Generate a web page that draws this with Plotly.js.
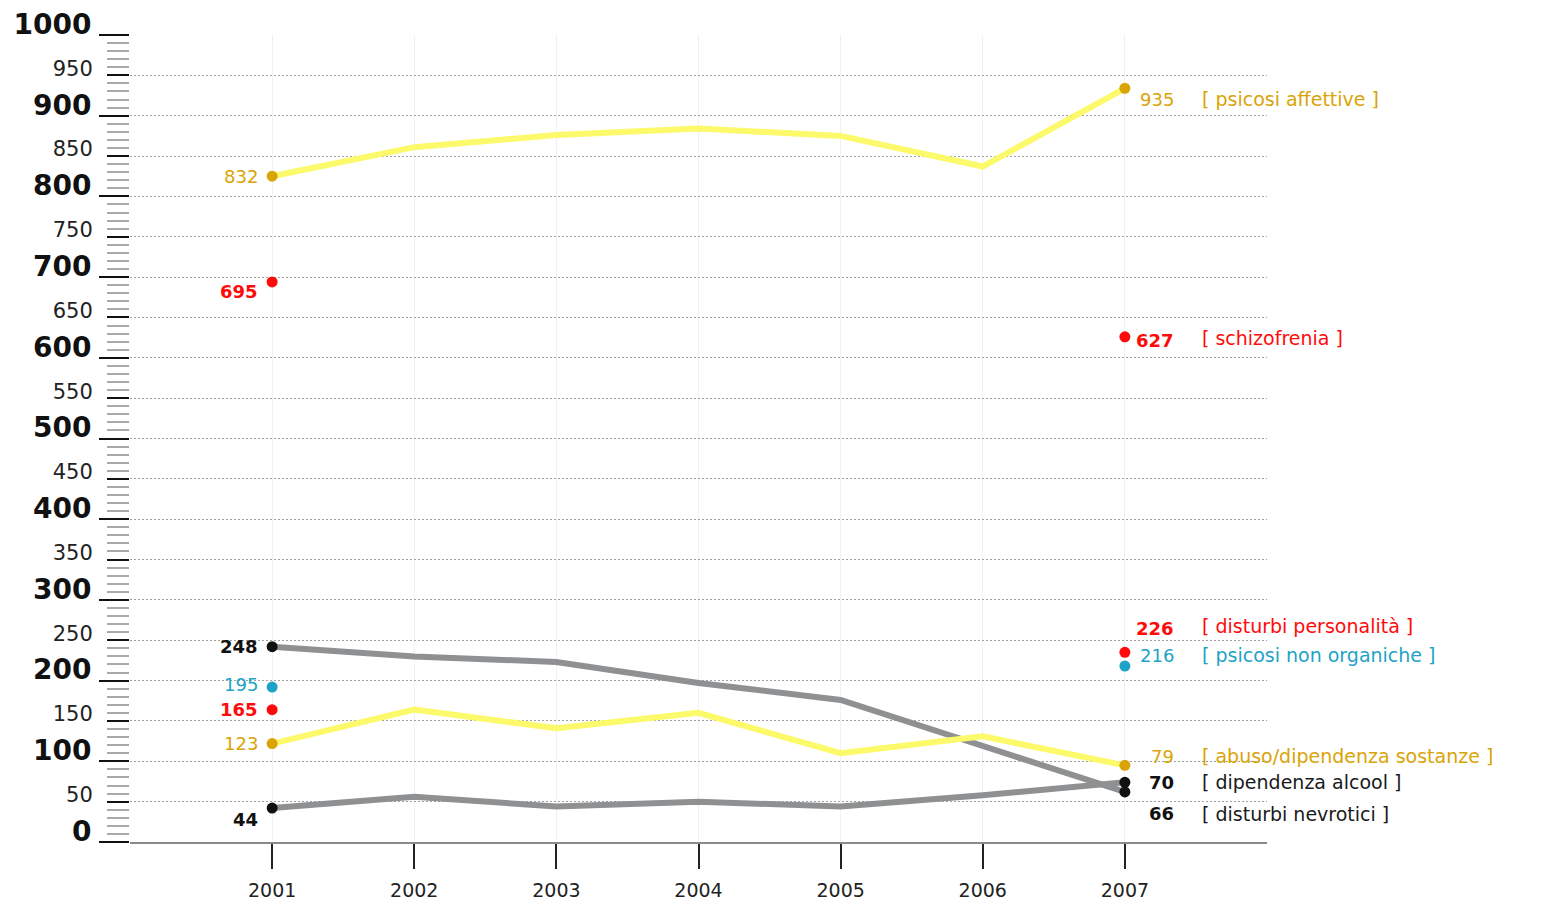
<!DOCTYPE html>
<html>
<head>
<meta charset="utf-8">
<script src="https://cdn.plot.ly/plotly-3.0.1.min.js"></script>
<style>
html,body{margin:0;padding:0;background:#ffffff;}
#chart{width:1553px;height:901px;}
</style>
</head>
<body>
<div id="chart"></div>
<script>
// ---- data ----
const years = [2001, 2002, 2003, 2004, 2005, 2006, 2007];
const endYears = [2001, 2007];

const psicosiAffettive   = [825, 861, 876, 884, 875, 837, 934];
const abusoSostanze      = [122, 164, 141, 160, 110, 131, 95];
const disturbiNevrotici  = [242, 230, 223, 197, 176, 119, 62];
const dipendenzaAlcool   = [42, 56, 44, 50, 44, 58, 74];

const schizofrenia        = [694, 626];
const disturbiPersonalita = [164, 235];
const psicosiNonOrganiche = [192, 218];

const seriesNames = ['psicosi affettive', 'schizofrenia', 'disturbi personalità',
  'psicosi non organiche', 'abuso/dipendenza sostanze', 'dipendenza alcool', 'disturbi nevrotici'];
const startLabels = ['832', '695', '165', '195', '123', '44', '248'];
const endLabels   = ['935', '627', '226', '216', '79', '70', '66'];

const yTickMajor = [0, 100, 200, 300, 400, 500, 600, 700, 800, 900, 1000];
const yTickMinor = [50, 150, 250, 350, 450, 550, 650, 750, 850, 950];

// ---- styles ----
const GOLD = '#d9a406', YEL = '#fcf96a', RED = '#ff0a0a', CYAN = '#1ea3c6',
      GRAY = '#8e9092', BLACK = '#111111';
const FONT = 'DejaVu Sans, Verdana, sans-serif';

const styles = [
  {text: GOLD, marker: GOLD, bold: false, ls: 0,   ve: -11, ne: -11},
  {text: RED,  marker: RED,  bold: true,  ls: -10, ve: -4,  ne: -1},
  {text: RED,  marker: RED,  bold: true,  ls: 0,   ve: 24,  ne: 26},
  {text: CYAN, marker: CYAN, bold: false, ls: 3,   ve: 11,  ne: 11},
  {text: GOLD, marker: GOLD, bold: false, ls: 0,   ve: 9,   ne: 9},
  {text: BLACK,marker: BLACK,bold: true,  ls: -11, ve: 0,   ne: 0},
  {text: BLACK,marker: BLACK,bold: true,  ls: 0,   ve: -22, ne: -22}
];

const fullSeries = [psicosiAffettive, null, null, null, abusoSostanze, dipendenzaAlcool, disturbiNevrotici];
const pointSeries = [null, schizofrenia, disturbiPersonalita, psicosiNonOrganiche, null, null, null];

function ends(i) {
  if (fullSeries[i]) { const s = fullSeries[i]; return [s[0], s[s.length - 1]]; }
  return pointSeries[i];
}

const traces = [];
// gray lines first
[6, 5].forEach(i => traces.push({
  x: years, y: fullSeries[i], mode: 'lines', type: 'scatter',
  line: {color: GRAY, width: 6}, hoverinfo: 'skip', showlegend: false
}));
// yellow lines
[0, 4].forEach(i => traces.push({
  x: years, y: fullSeries[i], mode: 'lines', type: 'scatter',
  line: {color: YEL, width: 6}, hoverinfo: 'skip', showlegend: false
}));
// endpoint markers
for (let i = 0; i < seriesNames.length; i++) {
  traces.push({
    x: endYears, y: ends(i), mode: 'markers', type: 'scatter', name: seriesNames[i],
    marker: {color: styles[i].marker, size: 11}, showlegend: false
  });
}
// helper trace so the second y axis exists
traces.push({x: [years[0]], y: [null], yaxis: 'y2', mode: 'markers', showlegend: false, hoverinfo: 'skip'});

const annotations = [];
for (let i = 0; i < seriesNames.length; i++) {
  const e = ends(i), st = styles[i];
  const b = t => st.bold ? '<b>' + t + '</b>' : t;
  annotations.push({x: endYears[0], y: e[0], xref: 'x', yref: 'y', text: b(startLabels[i]),
    showarrow: false, xanchor: 'right', yanchor: 'middle', xshift: -12, yshift: st.ls,
    font: {family: FONT, size: 18, color: st.text}});
  annotations.push({x: endYears[1], y: e[1], xref: 'x', yref: 'y', text: b(endLabels[i]),
    showarrow: false, xanchor: 'right', yanchor: 'middle', xshift: 51, yshift: st.ve,
    font: {family: FONT, size: 18, color: st.text}});
  annotations.push({x: endYears[1], y: e[1], xref: 'x', yref: 'y', text: '[ ' + seriesNames[i] + ' ]',
    showarrow: false, xanchor: 'left', yanchor: 'middle', xshift: 75, yshift: st.ne,
    font: {family: FONT, size: 19, color: st.text === BLACK ? '#1a1a1a' : st.text}});
}

const layout = {
  width: 1553, height: 901,
  margin: {l: 130, r: 286, t: 35, b: 59, pad: 0},
  paper_bgcolor: '#ffffff', plot_bgcolor: '#ffffff',
  showlegend: false,
  xaxis: {
    range: [2000, 2008], tickmode: 'array', tickvals: years, ticktext: years.map(String),
    ticks: 'outside', ticklen: 25, tickwidth: 2, tickcolor: '#222',
    showline: true, linecolor: '#8a8a8a', linewidth: 2,
    showgrid: true, gridcolor: '#f0f0f8', gridwidth: 1, zeroline: false,
    ticklabelstandoff: 5,
    tickfont: {family: FONT, size: 19, color: '#222'}, fixedrange: true
  },
  yaxis: {
    range: [0, 1000], tickmode: 'array', tickvals: yTickMajor, ticktext: yTickMajor.map(String),
    ticks: 'outside', ticklen: 30, tickwidth: 2, tickcolor: '#111',
    minor: {tick0: 0, dtick: 10, ticks: 'outside', ticklen: 22, tickwidth: 2, tickcolor: '#a9a9a9', showgrid: false},
    showgrid: true, gridcolor: '#a0a0a0', gridwidth: 1, griddash: '2px,2px',
    zeroline: false, showline: false, ticklabelstandoff: 2, ticklabelshift: -11,
    tickfont: {family: FONT, size: 28, color: '#111', weight: 'bold'}, fixedrange: true
  },
  yaxis2: {
    overlaying: 'y', side: 'left', anchor: 'x',
    range: [0, 1000], tickmode: 'array', tickvals: yTickMinor, ticktext: yTickMinor.map(String),
    ticks: 'outside', ticklen: 22, tickwidth: 2, tickcolor: '#111',
    showgrid: true, gridcolor: '#a0a0a0', gridwidth: 1, griddash: '2px,2px',
    zeroline: false, showline: false, ticklabelstandoff: 10, ticklabelshift: -7,
    tickfont: {family: FONT, size: 21, color: '#222'}, fixedrange: true
  },
  annotations: annotations
};

Plotly.newPlot('chart', traces, layout, {displayModeBar: false, staticPlot: true});
</script>
</body>
</html>
